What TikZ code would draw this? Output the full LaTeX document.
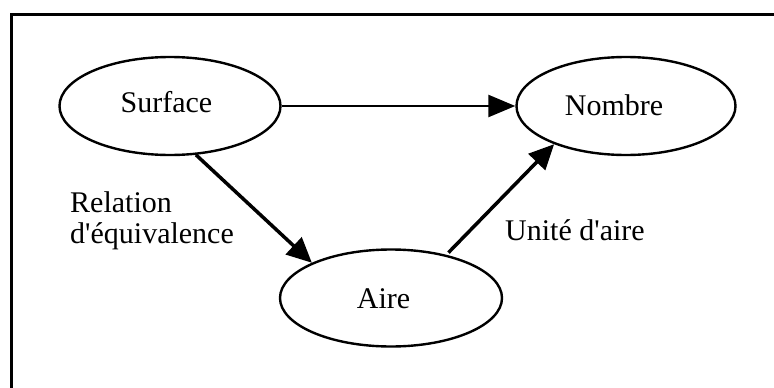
\documentclass[tikz,border=0pt]{standalone}
\usepackage{fontspec}
\setmainfont{Liberation Serif}
\usetikzlibrary{shapes.geometric,arrows.meta}
\tikzset{
  oval/.style={draw, ellipse, line width=2.4pt, inner sep=0pt},
  lbl/.style={inner sep=0pt, anchor=base, font=\fontsize{30}{34}\selectfont},
  lbw/.style={lbl, anchor=base west},
  conn/.style={line width=3.5pt, -{Triangle[length=25pt,width=23pt]}},
}
\begin{document}
\begin{tikzpicture}[x=1pt,y=-1pt]
\useasboundingbox (0,0) rectangle (774,388);
% frame (only top and left sides visible)
\draw[line width=3.5pt, line join=miter] (11.5,390) -- (11.5,14.5) -- (776,14.5);
% ellipses
\node[oval, minimum width=221pt, minimum height=98pt] (S) at (170,106) {};
\node[oval, minimum width=219pt, minimum height=98pt] (N) at (626,106) {};
\node[oval, minimum width=222pt, minimum height=97pt] (A) at (391,298) {};
% texts
\node[lbl] (st) at (166.5,112) {Surface};
\node[lbl] (nt) at (614,115) {Nombre};
\node[lbl] (at) at (383.5,308) {Aire};
\node[lbw] (r1) at (70,212) {Relation};
\node[lbw] (r2) at (70,243) {d\textquotesingle équivalence};
\node[lbw] (u1) at (505,240) {Unité d\textquotesingle aire};
% connectors
\draw[conn, line width=2.5pt, -{Triangle[length=27pt,width=22pt]}] (S.east) -- (N.west);
\draw[conn] (S.-62) -- (A.156);
\draw[conn, shorten <=3pt] (A.38) -- (N.208);
\end{tikzpicture}
\end{document}
